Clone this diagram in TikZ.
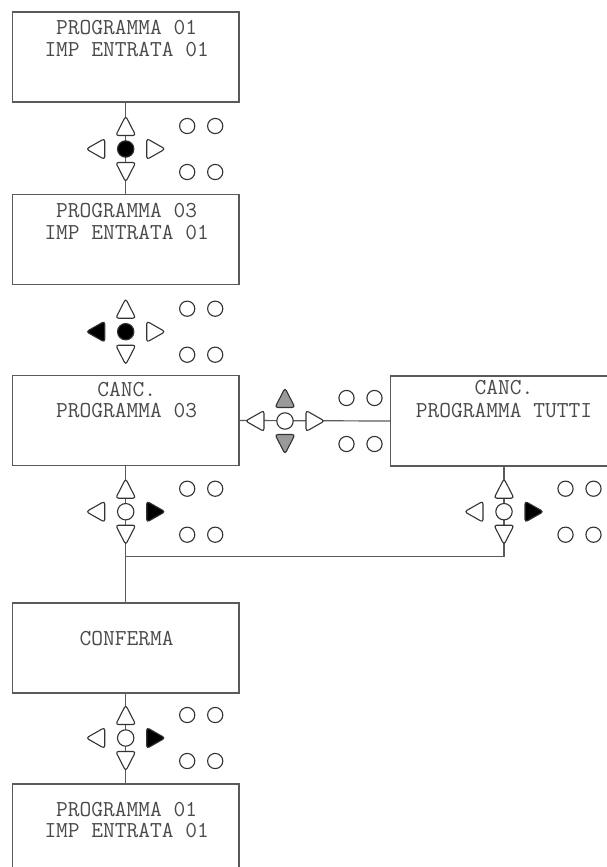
\documentclass[tikz,border=0pt]{standalone}
\usepackage{fontspec}
\usetikzlibrary{calc}
\definecolor{ln}{HTML}{5A5A5A}
\definecolor{tx}{HTML}{4A4A4A}
\definecolor{gfill}{HTML}{9A9A9A}
\tikzset{
  box/.style={draw=ln, line width=1.2pt, rectangle, minimum width=226.7pt, minimum height=90pt, inner sep=0pt, fill=white},
  txt/.style={text=tx, font=\ttfamily\fontsize{22.8}{26}\selectfont, inner sep=0pt, anchor=base, text height=14.5pt, text depth=1.5pt},
  conn/.style={draw=ln, line width=1.2pt},
  key/.style={draw=black!80, line width=1.1pt, rounded corners=2.8pt},
  led/.style={draw=black!80, line width=1.1pt},
}
% #1 x, #2 y, #3 up, #4 down, #5 left, #6 right, #7 centre
\newcommand\kpad[7]{%
\begin{scope}[shift={(#1,#2)}]
  \path[key, fill=#3] (-10,-13.5) -- (10,-13.5) -- (0,-33) -- cycle;
  \path[key, fill=#4] (-10,13.5) -- (10,13.5) -- (0,33) -- cycle;
  \path[key, fill=#5] (-21,-10.5) -- (-21,10.5) -- (-39.5,0) -- cycle;
  \path[key, fill=#6] (21,-10.5) -- (21,10.5) -- (39.5,0) -- cycle;
  \path[led, fill=#7] (0,0) circle (8.2);
  \path[led, fill=white] (61.5,-23) circle (7.6) (89.5,-23) circle (7.6)
                         (61.5,23) circle (7.6) (89.5,23) circle (7.6);
\end{scope}}
\begin{document}
\begin{tikzpicture}[x=1pt, y=-1pt]
\useasboundingbox (0,0) rectangle (607,867);
\clip (0,0) rectangle (607,867);
\fill[white] (0,0) rectangle (607,867);

% boxes
\node[box] (b1) at (125.7,57) {};
\node[box] (b2) at (125.7,239.5) {};
\node[box] (b3) at (125.7,420.5) {};
\node[box] (b4) at (504,421) {};
\node[box] (b5) at (125.7,648) {};
\node[box] (b6) at (125.7,829) {};

% texts
\node[txt] (t1a) at ($(b1.north)+(1,23.5)$) {PROGRAMMA 01};
\node[txt] (t1b) at ($(b1.north)+(1,45)$) {IMP ENTRATA 01};
\node[txt] (t2a) at ($(b2.north)+(1,24)$) {PROGRAMMA 03};
\node[txt] (t2b) at ($(b2.north)+(1,45.5)$) {IMP ENTRATA 01};
\node[txt] (t3a) at ($(b3.north)+(1,21.5)$) {CANC.};
\node[txt] (t3b) at ($(b3.north)+(1,43)$) {PROGRAMMA 03};
\node[txt] (t4a) at ($(b4.north)+(0,19.5)$) {CANC.};
\node[txt] (t4b) at ($(b4.north)+(0,42)$) {PROGRAMMA TUTTI};
\node[txt] (t5) at ($(b5.north)+(1,43)$) {CONFERMA};
\node[txt] (t6a) at ($(b6.north)+(1,33)$) {PROGRAMMA 01};
\node[txt] (t6b) at ($(b6.north)+(1,54.5)$) {IMP ENTRATA 01};

% connectors
\coordinate (j) at (125.7,556.7);
\path[conn] (b1.south) -- (b2.north);
\path[conn] (b3.east) -- (b4.west);
\path[conn] (b3.south) -- (b5.north);
\path[conn] (b4.south) |- (j);
\path[conn] (b5.south) -- (b6.north);

% keypads
\kpad{125.7}{149}{white}{white}{white}{white}{black}
\kpad{125.7}{331.7}{white}{white}{black}{white}{black}
\kpad{285}{421}{gfill}{gfill}{white}{white}{white}
\kpad{125.7}{511.7}{white}{white}{white}{black}{white}
\kpad{504}{511.7}{white}{white}{white}{black}{white}
\kpad{125.7}{738}{white}{white}{white}{black}{white}
\end{tikzpicture}
\end{document}
